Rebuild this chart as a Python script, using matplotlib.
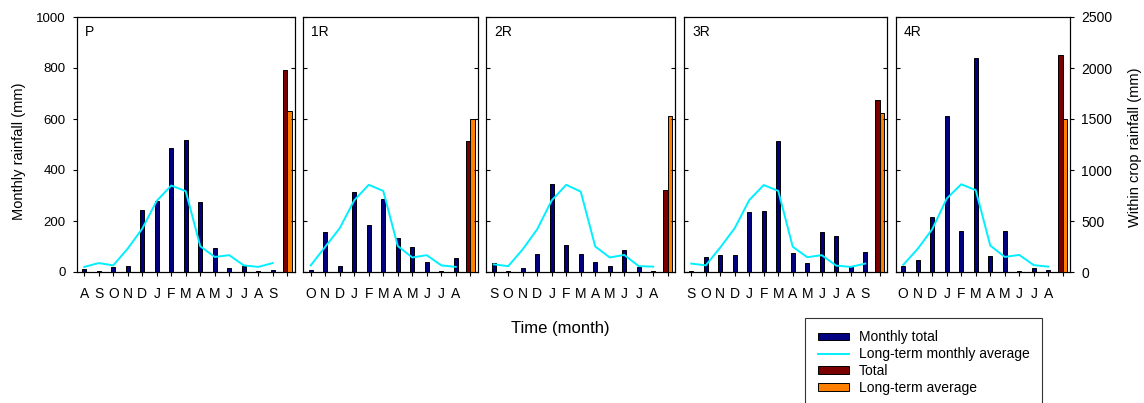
import matplotlib

matplotlib.use("Agg")

import matplotlib.pyplot as plt  # noqa: E402
import numpy as np  # noqa: E402
from matplotlib.lines import Line2D  # noqa: E402
from matplotlib.patches import Patch  # noqa: E402

plt.rcParams["font.family"] = ["Liberation Sans", "DejaVu Sans"]

# --- data (mm) -------------------------------------------------------------
P_MONTHS = list("ASONDJFMAMJJAS")
P_MONTHLY = [10, 5, 21, 25, 242, 278, 486, 516, 274, 96, 16, 22, 4, 7]
P_LT_MONTHLY = [20, 35, 26, 92, 170, 279, 339, 317, 101, 59, 66, 26, 20, 35]
P_TOTAL = 1983
P_LT_TOTAL = 1583

R1_MONTHS = list("ONDJFMAMJJA")
R1_MONTHLY = [7, 156, 22, 314, 184, 285, 135, 99, 41, 3, 54]
R1_LT_MONTHLY = [26, 99, 172, 281, 342, 318, 102, 57, 66, 26, 20]
R1_TOTAL = 1282
R1_LT_TOTAL = 1500

R2_MONTHS = list("SONDJFMAMJJA")
R2_MONTHLY = [34, 4, 16, 69, 347, 106, 69, 38, 24, 87, 19, 5]
R2_LT_MONTHLY = [30, 23, 89, 168, 281, 342, 315, 100, 57, 67, 23, 21]
R2_TOTAL = 801
R2_LT_TOTAL = 1531

R3_MONTHS = list("SONDJFMAMJJAS")
R3_MONTHLY = [5, 59, 66, 66, 236, 238, 513, 75, 34, 157, 141, 24, 80]
R3_LT_MONTHLY = [33, 26, 96, 172, 282, 341, 318, 99, 58, 66, 25, 20, 33]
R3_TOTAL = 1691
R3_LT_TOTAL = 1562

R4_MONTHS = list("ONDJFMAMJJA")
R4_MONTHLY = [23, 48, 215, 612, 161, 839, 61, 160, 5, 16, 7]
R4_LT_MONTHLY = [28, 91, 168, 288, 344, 321, 104, 59, 67, 27, 21]
R4_TOTAL = 2127
R4_LT_TOTAL = 1503

PANEL_NAMES = ["P", "1R", "2R", "3R", "4R"]
MONTHS = [P_MONTHS, R1_MONTHS, R2_MONTHS, R3_MONTHS, R4_MONTHS]
MONTHLY = [P_MONTHLY, R1_MONTHLY, R2_MONTHLY, R3_MONTHLY, R4_MONTHLY]
LT_MONTHLY = [P_LT_MONTHLY, R1_LT_MONTHLY, R2_LT_MONTHLY, R3_LT_MONTHLY,
              R4_LT_MONTHLY]
TOTALS = [P_TOTAL, R1_TOTAL, R2_TOTAL, R3_TOTAL, R4_TOTAL]
LT_TOTALS = [P_LT_TOTAL, R1_LT_TOTAL, R2_LT_TOTAL, R3_LT_TOTAL, R4_LT_TOTAL]

NAVY = "#000080"
CYAN = "#00F0FF"
BROWN = "#7A0000"
ORANGE = "#FF8000"

W, H = 1144, 403
fig = plt.figure(figsize=(W / 100, H / 100), dpi=100)
gs = fig.add_gridspec(
    1, 5,
    left=77 / W, right=1070 / W, top=1 - 17 / H, bottom=1 - 272 / H,
    width_ratios=[len(m) + 1 for m in MONTHS], wspace=0.047,
)

for i, name in enumerate(PANEL_NAMES):
    months = MONTHS[i]
    n = len(months)
    x = np.arange(n)
    first, last = i == 0, i == len(PANEL_NAMES) - 1

    ax = fig.add_subplot(gs[0, i])
    ax.bar(x, MONTHLY[i], width=0.3, color=NAVY, edgecolor="black",
           linewidth=0.7, zorder=2)
    ax.plot(x, LT_MONTHLY[i], color=CYAN, lw=1.4, zorder=3)
    ax.set_xlim(-0.5, n + 0.5)
    ax.set_ylim(0, 1000)
    ax.set_yticks(range(0, 1001, 200))
    ax.set_xticks(range(n + 1))
    ax.set_xticklabels(months + [""], fontsize=10)
    ax.tick_params(axis="x", direction="out", length=3, pad=8)
    ax.tick_params(axis="y", direction="out" if first else "in", length=3,
                   labelsize=9.5, labelleft=first, pad=5)
    ax.annotate(name, xy=(0, 1), xycoords="axes fraction",
                xytext=(8, -8), textcoords="offset pixels",
                ha="left", va="top", fontsize=10)

    # totals share the panel but use the within-crop scale on the right
    ax2 = ax.twinx()
    ax2.bar(n - 0.15, TOTALS[i], width=0.3, color=BROWN, edgecolor="black",
            linewidth=0.7)
    ax2.bar(n + 0.15, LT_TOTALS[i], width=0.3, color=ORANGE,
            edgecolor="black", linewidth=0.7)
    ax2.set_ylim(0, 2500)
    ax2.set_yticks(range(0, 2501, 500))
    ax2.tick_params(axis="y", direction="out" if last else "in", length=3,
                    labelright=last, labelsize=10, pad=5)

    for a in (ax, ax2):
        for sp in a.spines.values():
            sp.set_linewidth(0.8)
            sp.set_color("black")

fig.text(19 / W, 1 - 151 / H, "Monthly rainfall (mm)", rotation=90,
         ha="center", va="center", fontsize=10.5)
fig.text(1135 / W, 1 - 147 / H, "Within crop rainfall (mm)", rotation=90,
         ha="center", va="center", fontsize=10.5)
fig.text(560 / W, 1 - 328 / H, "Time (month)", ha="center", va="center",
         fontsize=12)

handles = [
    Patch(facecolor=NAVY, edgecolor="black", linewidth=0.7),
    Line2D([], [], color=CYAN, lw=1.4),
    Patch(facecolor=BROWN, edgecolor="black", linewidth=0.7),
    Patch(facecolor=ORANGE, edgecolor="black", linewidth=0.7),
]
labels = ["Monthly total", "Long-term monthly average", "Total",
          "Long-term average"]
leg = fig.legend(
    handles, labels, loc="upper left", bbox_to_anchor=(805 / W, 1 - 318 / H),
    frameon=True, fancybox=False, edgecolor="black", fontsize=10,
    handlelength=2.3, handleheight=0.45, labelspacing=0.2, borderpad=0.9,
    handletextpad=0.7, borderaxespad=0,
)
leg.get_frame().set_linewidth(0.8)

fig.savefig("out.png", dpi=100)
